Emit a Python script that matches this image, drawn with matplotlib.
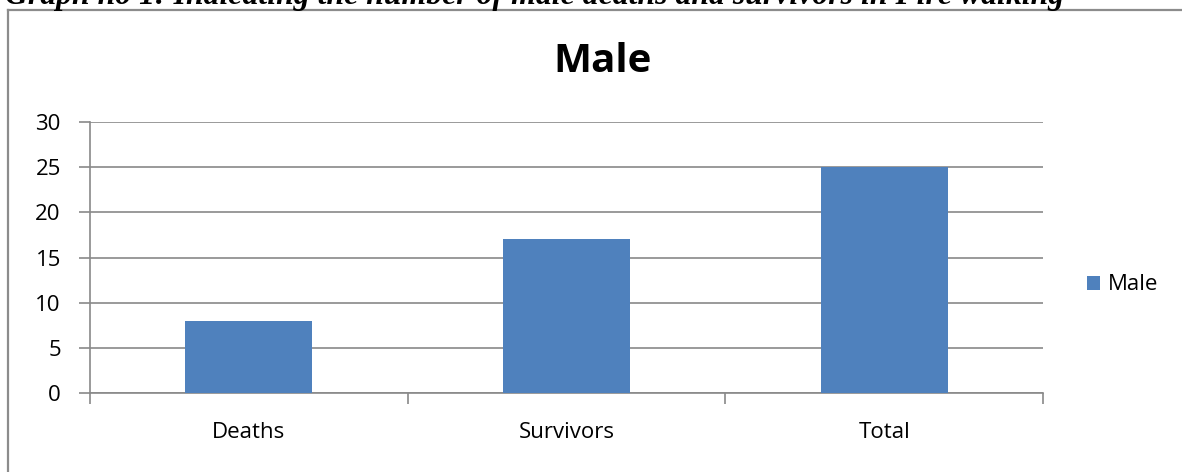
import matplotlib.pyplot as plt
from matplotlib.lines import Line2D

categories = ["Deaths", "Survivors", "Total"]
male = [8, 17, 25]
yticks = [0, 5, 10, 15, 20, 25, 30]

caption = "Graph no 1: Indicating the number of male deaths and survivors in Fire walking"
bar_color = "#4F81BD"
grid_color = "#898989"

fig = plt.figure(figsize=(11.82, 4.72), dpi=100)
W, H = 1182, 472

# chart frame (only left and top edges visible)
fig.add_artist(Line2D([8 / W, 8 / W], [0, 1 - 10 / H], color="#8c8c8c", lw=1.6))
fig.add_artist(Line2D([8 / W, 1], [1 - 10 / H, 1 - 10 / H], color="#8c8c8c", lw=1.6))

# caption, cut off at top like the source
fig.text(5 / W, 1 - 4 / H, caption, family="Liberation Serif", weight="bold",
         style="italic", fontsize=22.9, va="baseline", ha="left")

ax = fig.add_axes([90 / W, 1 - 393 / H, (1043 - 90) / W, (393 - 122) / H])
x = range(len(categories))
ax.bar(x, male, width=0.4, color=bar_color, label="Male", zorder=3)
ax.set_xlim(-0.5, 2.5)
ax.set_ylim(0, 30)
ax.set_yticks(yticks)
ax.set_xticks([-0.5, 0.5, 1.5, 2.5])
ax.set_xticklabels([])
ax.set_xticks(list(x), minor=True)
ax.set_xticklabels(categories, minor=True)
ax.tick_params(axis="x", which="minor", length=0, pad=21, labelsize=16)
ax.tick_params(axis="x", which="major", length=8, color=grid_color, width=1.2, direction="out")
ax.tick_params(axis="y", length=8, color=grid_color, width=1.2, pad=13, labelsize=16)
ax.yaxis.grid(True, color=grid_color, lw=1.2, zorder=0)
for s in ["top", "right"]:
    ax.spines[s].set_visible(False)
for s in ["left", "bottom"]:
    ax.spines[s].set_color(grid_color)
    ax.spines[s].set_linewidth(1.2)
for lab in ax.get_xticklabels(minor=True) + ax.get_yticklabels():
    lab.set_family("Open Sans")

fig.text(603 / W, 1 - 62 / H, "Male", family="Open Sans", weight="bold",
         fontsize=29, ha="center", va="center")

fig.legend(loc="center left", bbox_to_anchor=(1067 / W, 1 - 285 / H), frameon=False,
           handlelength=0.6, handleheight=0.6, handletextpad=0.35,
           prop={"family": "Open Sans", "size": 16})

fig.savefig("out.png", dpi=100)
